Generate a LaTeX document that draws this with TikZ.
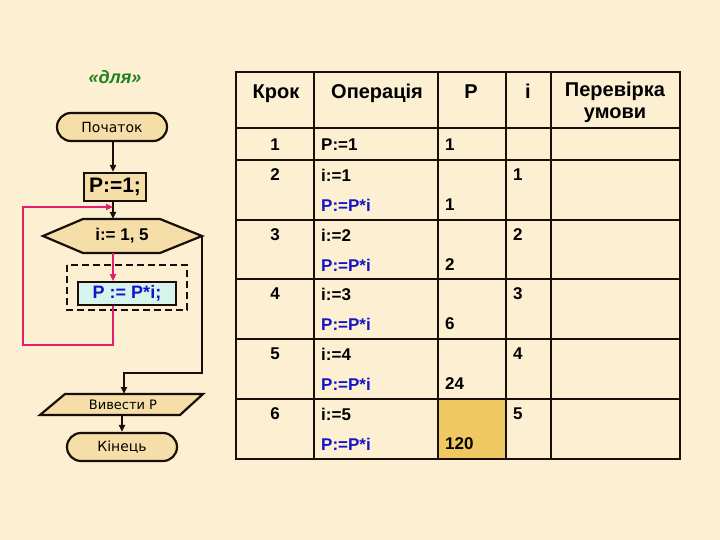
\documentclass[tikz,border=0pt]{standalone}
\usepackage{fontspec}
\setmainfont{Liberation Sans}
\newfontfamily\dejavu{DejaVu Sans}
\usetikzlibrary{arrows.meta,shapes.misc}
\definecolor{bg}{RGB}{252,239,210}
\definecolor{nodefill}{RGB}{246,222,168}
\definecolor{hl}{RGB}{240,200,98}
\definecolor{pinkl}{RGB}{226,30,108}
\definecolor{bluet}{RGB}{20,20,200}
\definecolor{greent}{RGB}{30,130,30}
\definecolor{cyanf}{RGB}{214,244,236}
\definecolor{lineb}{RGB}{25,15,8}
\begin{document}
\begin{tikzpicture}[x=1pt,y=-1pt,
  term/.style={rounded rectangle,draw=lineb,line width=2.2pt,fill=nodefill,minimum height=28pt,inner sep=0pt,font=\dejavu\fontsize{14}{16}\selectfont},
  procbox/.style={rectangle,draw=lineb,line width=2.2pt,fill=nodefill,inner sep=0pt,font=\bfseries\fontsize{21}{23}\selectfont},
  shp/.style={draw=lineb,line width=2.2pt,fill=nodefill},
  arr/.style={draw=lineb,line width=2.2pt,-{Triangle[length=7pt,width=6pt]}},
  parr/.style={draw=pinkl,line width=2.6pt},
  hdr/.style={font=\bfseries\fontsize{20}{22}\selectfont,inner sep=0pt,anchor=base},
  val/.style={font=\bfseries\fontsize{17}{19}\selectfont,inner sep=0pt},
  opb/.style={font=\bfseries\fontsize{17}{19}\selectfont,inner sep=0pt,text=bluet},
  tline/.style={draw=lineb,line width=1.4pt},
  tframe/.style={draw=lineb,line width=2.4pt}]
\fill[bg] (0,0) rectangle (720,540);
\useasboundingbox (0,0) rectangle (720,540);

% ---------- flowchart ----------
\node[font=\bfseries\itshape\fontsize{18}{20}\selectfont,text=greent] (title) at (115,77) {«для»};
\node[term,minimum width=110pt] (start) at (112,127) {Початок};
\node[procbox,minimum width=62pt,minimum height=28pt] (p1) at (115,187) {P:=1;};

% hexagon
\path[shp] (43,236)--(83,219)--(160,219)--(202,236)--(160,253)--(83,253)--cycle;
\node[font=\bfseries\fontsize{17}{19}\selectfont] (loop) at (122,236) {i:= 1, 5};
\coordinate (htop) at (113,219);
\coordinate (hbot) at (113,253);
\coordinate (hright) at (202,236);

% loop body
\draw[draw=lineb,line width=2pt,dash pattern=on 7pt off 4pt] (67,265) rectangle (187,310);
\node[rectangle,draw=lineb,line width=1.8pt,fill=cyanf,minimum width=98pt,minimum height=23pt,inner sep=0pt,
      font=\bfseries\fontsize{18}{20}\selectfont,text=bluet] (body) at (127,293.5) {P := P*i;};

% output parallelogram
\path[shp] (65,394)--(203,394)--(180,415)--(40,415)--cycle;
\node[font=\dejavu\fontsize{13}{15}\selectfont] (out) at (123,404.5) {Вивести P};
\coordinate (otop) at (124,394);
\coordinate (obot) at (122,415);

\node[term,minimum width=110pt] (end) at (122,447) {Кінець};

% connectors
\draw[arr] (start.south -| htop) -- (htop |- p1.north);
\draw[arr] (htop |- p1.south) -- (htop);
\draw[parr,-{Triangle[length=7pt,width=6pt]}] (hbot) -- (hbot |- body.north);
\coordinate (pl1) at (23,345);
\coordinate (pl2) at (23,207);
\coordinate (pj) at (113,207);
\draw[parr,-{Triangle[length=7pt,width=6pt]}] (hbot |- body.south) |- (pl1) -- (pl2) -- (pj);
\coordinate (bk) at (202,373);
\draw[arr] (hright) -- (bk) -| (otop);
\draw[arr] (obot) -- (end.north);

% ---------- table ----------
\fill[hl] (438,399) rectangle (506,459);
\foreach \y in {128,160,220,279,339,399} \draw[tline] (236,\y) -- (680,\y);
\foreach \x in {314,438,506,551} \draw[tline] (\x,72) -- (\x,459);
\draw[tframe] (236,72) rectangle (680,459);

\node[hdr] (h1) at (276,99) {Крок};
\node[hdr] (h2) at (377,99) {Операція};
\node[hdr] (h3) at (471,99) {P};
\node[hdr] (h4) at (528,99) {i};
\node[hdr] (h5a) at (615,97) {Перевірка};
\node[hdr] (h5b) at (615,119) {умови};

\node[val] (s1) at (275,145) {1};
\node[val,anchor=west] (o1) at (321,145) {P:=1};
\node[val,anchor=west] (pv1) at (445,145) {1};

\foreach \k/\t/\i/\p in {2/160/1/1,3/220/2/2,4/279/3/6,5/339/4/24,6/399/5/120}{
  \node[val] (s\k) at (275,\t+15) {\k};
  \node[val,anchor=west] (oi\k) at (321,\t+15) {i:=\i};
  \node[opb,anchor=west] (op\k) at (321,\t+45) {P:=P*i};
  \node[val,anchor=west] (pv\k) at (445,\t+45) {\p};
  \node[val,anchor=west] (iv\k) at (513,\t+15) {\i};
}
\end{tikzpicture}
\end{document}
